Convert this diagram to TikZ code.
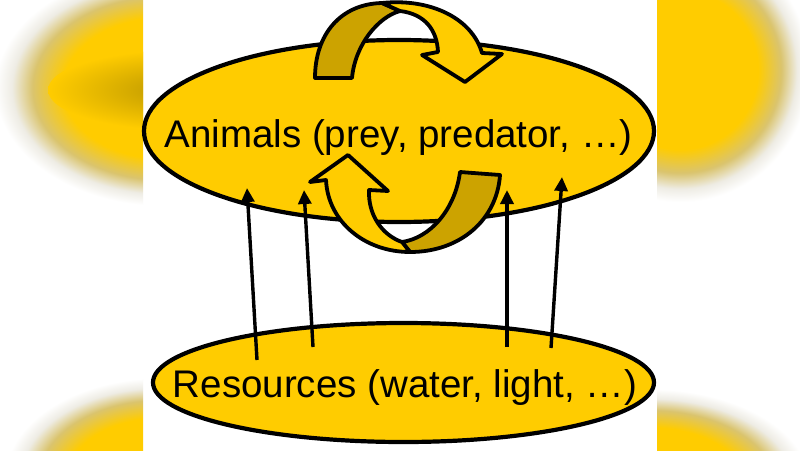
\documentclass[tikz,border=0pt]{standalone}
\usepackage{fontspec}
\setmainfont{Liberation Sans}
\usetikzlibrary{shapes.geometric,arrows.meta}
\definecolor{gold}{RGB}{255,204,0}
\definecolor{darkgold}{RGB}{204,163,0}
\definecolor{olivefade}{RGB}{218,196,110}
\definecolor{grayfade}{RGB}{238,236,228}
\definecolor{bandgold}{RGB}{203,163,0}
\pgfdeclareradialshading{blob}{\pgfpoint{0bp}{0bp}}{color(0bp)=(gold); color(15bp)=(gold); color(19.5bp)=(olivefade); color(22.5bp)=(grayfade); color(25bp)=(white); color(50bp)=(white)}
\pgfdeclareradialshading{band}{\pgfpoint{0bp}{0bp}}{color(0bp)=(bandgold); color(6bp)=(bandgold); color(25bp)=(gold); color(50bp)=(gold)}
\tikzset{
  bigell/.style={ellipse, draw=black, line width=4.2pt, fill=gold, inner sep=0pt},
  txt/.style={inner sep=0pt, anchor=base, font=\fontsize{38.5}{46}\selectfont},
  ribbonfront/.style={draw=black, fill=gold, line width=3.8pt, line join=round},
  ribbonback/.style={draw=black, fill=darkgold, line width=3.8pt, line join=round},
  uparrow/.style={draw=black, line width=3.4pt, -{Triangle[length=14pt,width=13pt]}}
}
\begin{document}
\begin{tikzpicture}[x=1pt,y=-1pt]
\useasboundingbox (0,0) rectangle (800,450);
\fill[white] (0,0) rectangle (800,450);
% blurred side panels
\begin{scope}
  \clip (0,0) rectangle (143,450);
  \shade[shading=blob] (165,88) ellipse [x radius=170, y radius=118];
  \shade[shading=band] (180,90) ellipse [x radius=132, y radius=40];
  \shade[shading=blob] (160,478) ellipse [x radius=155, y radius=100];
\end{scope}
\begin{scope}
  \clip (657,0) rectangle (800,450);
  \shade[shading=blob] (680,70) ellipse [x radius=130, y radius=132];
  \shade[shading=blob] (650,485) ellipse [x radius=160, y radius=96];
\end{scope}
% main ellipses
\node[bigell, minimum width=510pt, minimum height=182pt] (animals) at (399,131) {};
\node[txt] (animalslbl) at (398.5,147) {Animals (prey, predator, …)};
% top circular arrow
\filldraw[ribbonback] (315,78) .. controls (315,35) and (340,4) .. (382,3) -- (400,11) .. controls (378,17) and (355,45) .. (352,78) -- cycle;
\filldraw[ribbonfront] (382,3) .. controls (430,-2) and (472,18) .. (482,53) -- (502,54) -- (465,82) -- (422,55) -- (438,52) .. controls (437,30) and (425,14) .. (400,11) -- cycle;
% bottom circular arrow
\filldraw[ribbonback] (460,172) -- (500,175) .. controls (497,220) and (460,252) .. (410,252) -- (402,242) .. controls (430,238) and (455,210) .. (460,172) -- cycle;
\filldraw[ribbonfront] (348,155) -- (388,191) -- (369,190) .. controls (368,215) and (382,235) .. (402,242) -- (410,252) .. controls (365,252) and (328,222) .. (326,180) -- (310,182) -- cycle;
% bottom ellipse
\node[bigell, minimum width=501pt, minimum height=119pt] (resources) at (403.5,382.5) {};
\node[txt] (resourceslbl) at (405,397) {Resources (water, light, …)};
% arrows
\coordinate (b1) at (257,360); \coordinate (t1) at (247,188);
\coordinate (b2) at (313,347); \coordinate (t2) at (304,190);
\coordinate (b3) at (507,347); \coordinate (t3) at (507,190);
\coordinate (b4) at (551,348); \coordinate (t4) at (562,177);
\draw[uparrow] (b1) -- (t1);
\draw[uparrow] (b2) -- (t2);
\draw[uparrow] (b3) -- (t3);
\draw[uparrow] (b4) -- (t4);
\end{tikzpicture}
\end{document}
